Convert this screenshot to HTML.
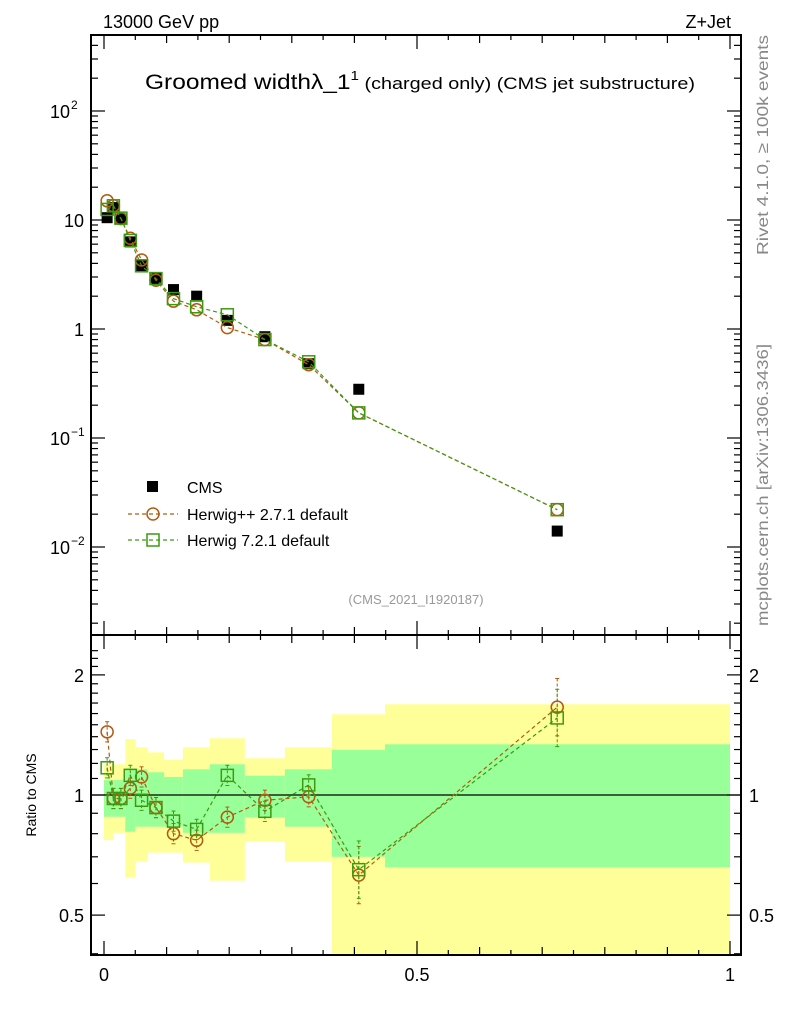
<!DOCTYPE html>
<html><head><meta charset="utf-8"><style>
body{margin:0;background:#fff;}
svg{display:block;font-family:"Liberation Sans",sans-serif;}
</style></head><body>
<svg id="chart" width="786" height="1024" viewBox="0 0 786 1024" xmlns="http://www.w3.org/2000/svg">
<g id="bands"></g>
<g id="marks"></g>
<g id="axes"></g>
<text x="103" y="28" font-size="18">13000 GeV pp</text>
<text x="731" y="28" font-size="18" text-anchor="end">Z+Jet</text>
<text x="145" y="89" font-size="21" textLength="550" lengthAdjust="spacingAndGlyphs">Groomed width<tspan>λ_1</tspan><tspan font-size="13" dy="-9">1</tspan><tspan font-size="17" dy="9"> (charged only) (CMS jet substructure)</tspan></text>
<text x="416" y="604" font-size="13" fill="#999" text-anchor="middle">(CMS_2021_I1920187)</text>
<text transform="translate(768,145) rotate(-90)" font-size="16" fill="#888" text-anchor="middle" textLength="220" lengthAdjust="spacingAndGlyphs">Rivet 4.1.0, ≥ 100k events</text>
<text transform="translate(768,485) rotate(-90)" font-size="16" fill="#888" text-anchor="middle" textLength="282" lengthAdjust="spacingAndGlyphs">mcplots.cern.ch [arXiv:1306.3436]</text>
<text transform="translate(36,795) rotate(-90)" font-size="14" text-anchor="middle">Ratio to CMS</text>
<g>
<rect x="147" y="481" width="11" height="11" fill="#000"/>
<text x="187" y="493" font-size="16">CMS</text>
<line x1="128" y1="514" x2="178" y2="514" stroke="#b25a10" stroke-width="1.3" stroke-dasharray="4,3"/>
<circle cx="153" cy="514" r="6" fill="none" stroke="#b25a10" stroke-width="1.5"/>
<text x="187" y="520" font-size="16">Herwig++ 2.7.1 default</text>
<line x1="128" y1="540" x2="178" y2="540" stroke="#3c9a10" stroke-width="1.3" stroke-dasharray="4,3"/>
<rect x="147" y="534" width="12" height="12" fill="none" stroke="#3c9a10" stroke-width="1.5"/>
<text x="187" y="546" font-size="16">Herwig 7.2.1 default</text>
</g>
</svg>
<script>
const xVals=[0.005,0.015,0.027,0.042,0.06,0.083,0.111,0.148,0.197,0.257,0.327,0.407,0.724];
const cmsVals=[10.5,13,10.2,6.3,3.8,2.9,2.3,2.0,1.2,0.85,0.48,0.28,0.014];
const hppVals=[15,13.5,10.3,6.8,4.3,2.8,1.8,1.5,1.03,0.8,0.47,0.17,0.022];
const h7Vals=[12.5,13.5,10.4,6.5,3.8,2.9,1.9,1.6,1.35,0.8,0.5,0.17,0.022];
const hppRatio=[1.44,0.98,0.98,1.04,1.11,0.93,0.80,0.77,0.88,0.97,0.99,0.63,1.66];
const h7Ratio=[1.17,0.98,0.98,1.12,0.97,0.93,0.86,0.82,1.12,0.91,1.06,0.65,1.56];
const bandEdges=[0,0.015,0.034,0.05,0.07,0.096,0.126,0.169,0.225,0.289,0.364,0.449,1.0];
const greenHi=[1.09,1.09,1.16,1.16,1.14,1.11,1.16,1.194,1.118,1.16,1.297,1.34];
const greenLo=[0.882,0.882,0.809,0.833,0.833,0.833,0.804,0.804,0.879,0.833,0.70,0.659];
const yellowHi=[1.194,1.194,1.381,1.317,1.279,1.224,1.317,1.387,1.236,1.317,1.593,1.688];
const yellowLo=[0.771,0.804,0.622,0.681,0.717,0.717,0.677,0.610,0.764,0.681,0.40,0.40];

const X=v=>104+626*v;
const Y=v=>329-109*Math.log10(v);
const R=v=>795-399*Math.log10(v);
const NS="http://www.w3.org/2000/svg";
function mk(parent,tag,attrs){const e=document.createElementNS(NS,tag);for(const k in attrs)e.setAttribute(k,attrs[k]);parent.appendChild(e);return e;}
const bands=document.getElementById('bands'),marks=document.getElementById('marks'),axes=document.getElementById('axes');
const clipR=v=>Math.min(955,Math.max(635,R(v)));
for(let i=0;i<bandEdges.length-1;i++){
 const x0=X(bandEdges[i]),x1=X(bandEdges[i+1]);
 const y=mk(bands,'rect',{x:x0,y:clipR(yellowHi[i]),width:x1-x0,height:clipR(yellowLo[i])-clipR(yellowHi[i]),fill:'#ffff99'});
 
 
 const g=mk(bands,'rect',{x:x0,y:clipR(greenHi[i]),width:x1-x0,height:clipR(greenLo[i])-clipR(greenHi[i]),fill:'#99ff99'});
 
 
}
mk(bands,'line',{x1:91,x2:741,y1:R(1),y2:R(1),stroke:'#000','stroke-width':1.2});
function series(vals,fy,color,shape,err){
 const pts=vals.map((v,i)=>X(xVals[i])+','+fy(v)).join(' ');
 const pl=mk(marks,'polyline',{points:pts,fill:'none',stroke:color,'stroke-width':1.2,'stroke-dasharray':'4,3'});
 
 
 vals.forEach((v,i)=>{
  const cx=X(xVals[i]),cy=fy(v);
  if(err){const e=err*(i==11||i==12?3:1);
   mk(marks,'line',{x1:cx,x2:cx,y1:fy(v*(1+e)),y2:fy(v/(1+e)),stroke:color,'stroke-width':1,'stroke-dasharray':'3,2'});
   mk(marks,'line',{x1:cx-2,x2:cx+2,y1:fy(v*(1+e)),y2:fy(v*(1+e)),stroke:color});
   mk(marks,'line',{x1:cx-2,x2:cx+2,y1:fy(v/(1+e)),y2:fy(v/(1+e)),stroke:color});}
  let m;
  if(shape=='c') m=mk(marks,'circle',{cx:cx,cy:cy,r:6,fill:'none',stroke:color,'stroke-width':1.5});
  else m=mk(marks,'rect',{x:cx-6,y:cy-6,width:12,height:12,fill:'none',stroke:color,'stroke-width':1.5});
  
  
 });
}
cmsVals.forEach((v,i)=>{
 const r=mk(marks,'rect',{x:X(xVals[i])-5.5,y:Y(v)-5.5,width:11,height:11,fill:'#000'});
 
 
});
series(hppVals,Y,'#b25a10','c',0);
series(h7Vals,Y,'#3c9a10','s',0);
series(hppRatio,R,'#b25a10','c',0.06);
series(h7Ratio,R,'#3c9a10','s',0.06);
mk(axes,'rect',{x:91,y:35,width:650,height:600,fill:'none',stroke:'#000','stroke-width':2});
mk(axes,'rect',{x:91,y:635,width:650,height:320,fill:'none',stroke:'#000','stroke-width':2});
for(let k=0;k<=20;k++){const v=k*0.05,x=X(v),L=(k%10==0)?14:(k%2==0?8:5);
 [[35,1],[635,-1],[635,1],[955,-1]].forEach(([y,d])=>mk(axes,'line',{x1:x,x2:x,y1:y,y2:y+d*L,stroke:'#000','stroke-width':1.2}));}
['0','0.5','1'].forEach((t,i)=>{const e=mk(axes,'text',{x:X(i*0.5),y:981,'font-size':18,'text-anchor':'middle'});e.textContent=t;
 
 });
for(let d=-3;d<=2;d++)for(let m=1;m<10;m++){const v=m*Math.pow(10,d),y=Y(v);if(y<35||y>635)continue;const L=m==1?14:7;
 mk(axes,'line',{x1:91,x2:91+L,y1:y,y2:y,stroke:'#000','stroke-width':1.2});
 mk(axes,'line',{x1:741,x2:741-L,y1:y,y2:y,stroke:'#000','stroke-width':1.2});}
[[2,'10','2'],[1,'10',''],[0,'1',''],[-1,'10','−1'],[-2,'10','−2']].forEach(([d,b,s])=>{
 const e=mk(axes,'text',{x:s?70:84,y:Y(Math.pow(10,d))+7,'font-size':18,'text-anchor':'end'});e.textContent=b;
 
 
 if(s){const t=mk(axes,'text',{x:71,y:Y(Math.pow(10,d))-2,'font-size':12});t.textContent=s;}});
for(let k=4;k<=23;k++){const v=k/10,y=R(v);if(y<635||y>955)continue;const L=(v==0.5||v==1||v==2)?14:7;
 mk(axes,'line',{x1:91,x2:91+L,y1:y,y2:y,stroke:'#000','stroke-width':1.2});
 mk(axes,'line',{x1:741,x2:741-L,y1:y,y2:y,stroke:'#000','stroke-width':1.2});}
[[2,'2'],[1,'1'],[0.5,'0.5']].forEach(([v,t])=>{
 const a=mk(axes,'text',{x:84,y:R(v)+7,'font-size':18,'text-anchor':'end'});a.textContent=t;
 
 
 const b=mk(axes,'text',{x:749,y:R(v)+7,'font-size':18});b.textContent=t;
 
 });
</script>
</body></html>
